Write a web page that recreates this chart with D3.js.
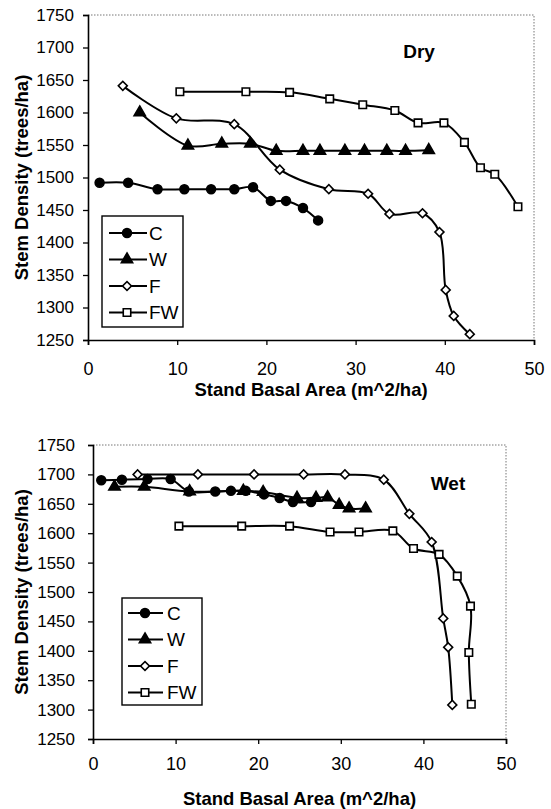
<!DOCTYPE html>
<html><head><meta charset="utf-8">
<script src="https://cdn.jsdelivr.net/npm/d3@7"></script>
<style>
body{margin:0;background:#fff}
svg{display:block}
text{font-family:"Liberation Sans",Arial,sans-serif;fill:#000}
</style>
</head><body>
<svg id="chart" width="551" height="809"></svg>
<script>
// ---------- data ----------
const seriesNames = ["C", "W", "F", "FW"];
const xTickValues = [0, 10, 20, 30, 40, 50];
const yTickValues = [1250, 1300, 1350, 1400, 1450, 1500, 1550, 1600, 1650, 1700, 1750];
const xTitle = "Stand Basal Area (m^2/ha)";
const yTitle = "Stem Density (trees/ha)";

// Dry panel: [basal area, stem density]
const dryC  = [[1.3,1492],[4.5,1492],[7.8,1482],[10.8,1482],[13.8,1482],[16.4,1482],[18.5,1485],[20.5,1464],[22.2,1464],[24.1,1453],[25.8,1434]];
const dryW  = [[5.8,1600],[11.2,1549],[15.0,1552],[18.2,1552],[21.1,1541],[24.1,1541],[26.0,1541],[28.8,1541],[31.0,1541],[33.5,1541],[35.6,1541],[38.2,1542]];
const dryF  = [[3.9,1641],[9.9,1591],[16.4,1582],[21.5,1512],[27.0,1482],[31.4,1475],[33.8,1444],[37.5,1445],[39.4,1416],[40.1,1327],[41.0,1287],[42.8,1259]];
const dryFW = [[10.3,1632],[17.7,1632],[22.6,1631],[27.1,1621],[30.8,1612],[34.4,1603],[37.0,1584],[39.9,1584],[42.2,1554],[44.0,1515],[45.6,1505],[48.2,1455]];

// Wet panel
const wetC  = [[1.0,1690],[3.5,1691],[6.6,1692],[9.4,1692],[11.6,1671],[14.8,1671],[16.7,1672],[18.5,1672],[20.7,1666],[22.6,1660],[24.2,1653],[26.4,1653]];
const wetW  = [[2.6,1679],[6.2,1679],[11.7,1671],[18.2,1672],[20.6,1670],[24.7,1660],[27.0,1660],[28.4,1661],[29.8,1648],[31.0,1642],[33.0,1642]];
const wetF  = [[5.4,1700],[12.7,1700],[19.5,1700],[25.5,1700],[30.5,1700],[35.2,1691],[38.3,1633],[41.0,1585],[42.4,1455],[43.0,1406],[43.5,1308]];
const wetFW = [[10.4,1612],[18.0,1612],[23.8,1612],[28.7,1602],[32.2,1602],[36.3,1604],[38.8,1574],[41.9,1564],[44.1,1527],[45.7,1476],[45.5,1397],[45.8,1309]];

// ---------- drawing ----------
const svg = d3.select("#chart");
svg.append("rect").attr("width",551).attr("height",809).attr("fill","#fff");

const markerStyle = {
  C:  {type: d3.symbolCircle,   size: 62, fill: "#000", rot: 0},
  W:  {type: d3.symbolTriangle, size: 55, fill: "#000", rot: 0},
  F:  {type: d3.symbolSquare,   size: 40, fill: "#fff", rot: 45},
  FW: {type: d3.symbolSquare,   size: 56, fill: "#fff", rot: 0}
};

function drawMarker(g, name, x, y) {
  const m = markerStyle[name];
  g.append("path")
    .attr("d", d3.symbol().type(m.type).size(m.size)())
    .attr("transform", `translate(${x},${y}) rotate(${m.rot})`)
    .attr("fill", m.fill).attr("stroke", "#000").attr("stroke-width", 1.6);
}

function panel(cfg) {
  const {x0, x1, yTop, yBot, data, label, labelX, labelY, leg, xLabelY, xTitleY, yPad, yTitleX} = cfg;
  const x = d3.scaleLinear().domain([0, 50]).range([x0, x1]);
  const y = d3.scaleLinear().domain([1250, 1750]).range([yBot, yTop]);
  const g = svg.append("g");

  // dotted frame top/right
  g.append("path")
    .attr("d", `M${x0},${yTop}H${x1}V${yBot}`)
    .attr("fill","none").attr("stroke","#777").attr("stroke-width",1).attr("stroke-dasharray","1.5,1.5");

  // axes
  const yAxis = g.append("g").attr("transform", `translate(${x0},0)`)
    .call(d3.axisLeft(y).tickValues(yTickValues).tickSize(5).tickPadding(yPad).tickFormat(d3.format("d")));
  yAxis.select(".domain").attr("stroke","#000").attr("stroke-width",1.6);
  yAxis.selectAll("line").attr("stroke","#000").attr("stroke-width",1.3);
  yAxis.selectAll("text").attr("font-size",17).attr("font-family","Liberation Sans, Arial, sans-serif").attr("fill","#000");

  const xAxis = g.append("g").attr("transform", `translate(0,${yBot})`)
    .call(d3.axisBottom(x).tickValues(xTickValues).tickSize(5).tickPadding(0).tickFormat(d3.format("d")));
  xAxis.select(".domain").attr("stroke","#000").attr("stroke-width",1.6);
  xAxis.selectAll("line").attr("stroke","#000").attr("stroke-width",1.3);
  xAxis.selectAll("text").attr("font-size",18).attr("font-family","Liberation Sans, Arial, sans-serif").attr("fill","#000")
    .attr("dy", null).attr("y", xLabelY - yBot);

  // titles
  g.append("text").attr("x", (x0 + x1) / 2).attr("y", xTitleY)
    .attr("text-anchor","middle").attr("font-size",18.5).attr("font-weight","bold").text(xTitle);
  g.append("text").attr("transform", `translate(${yTitleX},${(yTop + yBot) / 2}) rotate(-90)`)
    .attr("text-anchor","middle").attr("font-size",18.5).attr("font-weight","bold").text(yTitle);

  // panel label
  g.append("text").attr("x", labelX).attr("y", labelY).attr("text-anchor","middle")
    .attr("font-size",19).attr("font-weight","bold").text(label);

  // series
  const line = d3.line().x(d => x(d[0])).y(d => y(d[1])).curve(d3.curveCatmullRom.alpha(0.5));
  seriesNames.forEach((name, i) => {
    g.append("path").attr("d", line(data[i])).attr("fill","none").attr("stroke","#000").attr("stroke-width",2);
  });
  seriesNames.forEach((name, i) => {
    data[i].forEach(p => drawMarker(g, name, x(p[0]), y(p[1])));
  });

  // legend
  const lg = g.append("g");
  lg.append("rect").attr("x", leg.x).attr("y", leg.y).attr("width", leg.w).attr("height", leg.h)
    .attr("fill","#fff").attr("stroke","#000").attr("stroke-width",1.4);
  seriesNames.forEach((name, i) => {
    const ry = leg.y + leg.first + i * leg.step;
    lg.append("line").attr("x1", leg.x + leg.l0).attr("x2", leg.x + leg.l1).attr("y1", ry).attr("y2", ry)
      .attr("stroke","#000").attr("stroke-width",2);
    drawMarker(lg, name, leg.x + leg.m, ry);
    lg.append("text").attr("x", leg.x + leg.t).attr("y", ry + 6.5).attr("font-size",19).text(name);
  });
}

panel({
  x0: 88, x1: 534, yTop: 15, yBot: 340,
  data: [dryC, dryW, dryF, dryFW],
  label: "Dry", labelX: 419, labelY: 58,
  xLabelY: 375, xTitleY: 396, yPad: 9, yTitleX: 28,
  leg: {x: 102, y: 216, w: 81, h: 111, first: 17, step: 26.5, l0: 7, l1: 45, m: 25, t: 47}
});

panel({
  x0: 93, x1: 506, yTop: 445, yBot: 739,
  data: [wetC, wetW, wetF, wetFW],
  label: "Wet", labelX: 448, labelY: 490,
  xLabelY: 770, xTitleY: 805, yPad: 13, yTitleX: 28,
  leg: {x: 122, y: 598, w: 80, h: 107, first: 15, step: 26.5, l0: 6, l1: 41, m: 23, t: 45}
});
</script>
</body></html>
